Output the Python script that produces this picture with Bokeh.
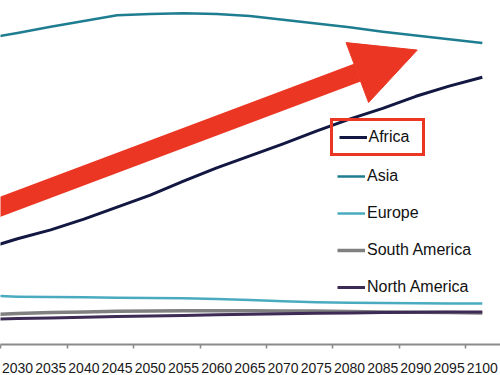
from bokeh.plotting import figure
from bokeh.models import Range1d, FixedTicker, Legend, LegendItem, Arrow, NormalHead
from bokeh.embed import file_html
from bokeh.resources import INLINE

# ---- data (population, billions) ----
years = [2025, 2030, 2035, 2040, 2045, 2050, 2055, 2060, 2065, 2070, 2075, 2080, 2085, 2090, 2095, 2100]
africa = [1.51, 1.67, 1.81, 1.98, 2.17, 2.36, 2.58, 2.79, 2.98, 3.17, 3.37, 3.56, 3.73, 3.92, 4.08, 4.22]
asia = [4.83, 4.92, 5.02, 5.11, 5.20, 5.22, 5.23, 5.22, 5.19, 5.13, 5.07, 5.01, 4.94, 4.88, 4.82, 4.76]
europe = [0.772, 0.756, 0.751, 0.745, 0.740, 0.735, 0.729, 0.717, 0.704, 0.685, 0.669, 0.661, 0.656, 0.652, 0.646, 0.646]
south_america = [0.472, 0.488, 0.504, 0.515, 0.524, 0.531, 0.535, 0.535, 0.535, 0.531, 0.528, 0.520, 0.515, 0.509, 0.504, 0.499]
north_america = [0.394, 0.409, 0.420, 0.430, 0.441, 0.449, 0.457, 0.468, 0.476, 0.485, 0.493, 0.499, 0.504, 0.510, 0.515, 0.515]

tick_years = list(range(2030, 2101, 5))
tick_labels = [str(y) for y in tick_years]
boundary_ticks = [2027.5 + 10 * i for i in range(8)]

RED = "#ea3622"

p = figure(width=500, height=375, output_backend="svg", toolbar_location=None,
           x_range=Range1d(2027.44, 2102.74), y_range=Range1d(0.0, 5.433),
           min_border_left=0, min_border_right=0, min_border_top=0, min_border_bottom=30,
           y_axis_location=None)
p.outline_line_color = None
p.xgrid.visible = False
p.ygrid.visible = False
p.background_fill_color = "white"

ax = p.xaxis[0]
ax.ticker = FixedTicker(ticks=tick_years, minor_ticks=boundary_ticks)
ax.major_label_overrides = {y: l for y, l in zip(tick_years, tick_labels)}
ax.axis_line_color = "#8a8a8a"
ax.axis_line_width = 1.8
ax.major_tick_line_color = None
ax.major_tick_out = 0
ax.major_tick_in = 0
ax.minor_tick_line_color = "#8a8a8a"
ax.minor_tick_line_width = 1.6
ax.minor_tick_out = 4
ax.minor_tick_in = 0
ax.major_label_standoff = 14
ax.major_label_text_font = "Liberation Sans"
ax.major_label_text_font_size = "14px"
ax.major_label_text_color = "#1a1a1a"

r_eu = p.line(years, europe, line_color="#4aabc0", line_width=2.5, line_join="round")
r_sa = p.line(years, south_america, line_color="#808080", line_width=3.5, line_join="round")
r_na = p.line(years, north_america, line_color="#3d2a55", line_width=3, line_join="round")
r_as = p.line(years, asia, line_color="#1f7d91", line_width=2.5, line_join="round")
r_af = p.line(years, africa, line_color="#131842", line_width=3, line_join="round")

common = dict(label_text_font="Liberation Sans", label_text_font_size="16px",
              label_text_color="#111111", glyph_width=28, label_standoff=2,
              background_fill_alpha=0, margin=0)

leg1 = Legend(items=[LegendItem(label="Africa", renderers=[r_af])],
              location=(329.5, 188.5), padding=6, glyph_height=20, label_height=20,
              label_width=47,
              border_line_color=RED, border_line_width=3, border_line_alpha=1.0, **common)
leg2 = Legend(items=[LegendItem(label="Asia", renderers=[r_as]),
                     LegendItem(label="Europe", renderers=[r_eu]),
                     LegendItem(label="South America", renderers=[r_sa]),
                     LegendItem(label="North America", renderers=[r_na])],
              location=(337, 47), padding=0, glyph_height=20, label_height=20, spacing=17,
              border_line_color=None, **common)
p.add_layout(leg1, "center")
p.add_layout(leg2, "center")

arrow = Arrow(end=NormalHead(size=64, fill_color=RED, line_color=RED, line_width=1),
              x_start=2021.4, y_start=1.94, x_end=2090.2, y_end=4.65,
              line_color=RED, line_width=19)
p.add_layout(arrow)

open("out.html", "w").write(file_html(p, INLINE))
